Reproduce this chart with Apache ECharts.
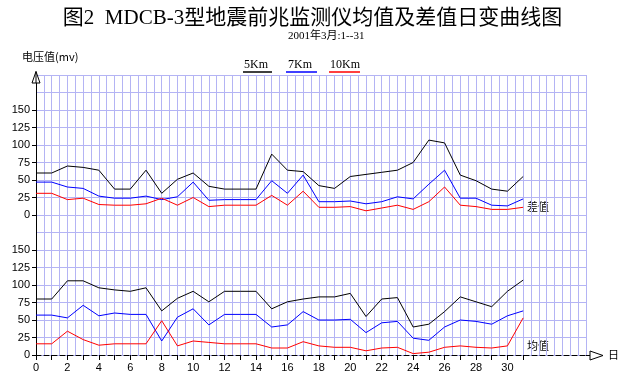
<!DOCTYPE html>
<html>
<head>
<meta charset="utf-8">
<script src="https://cdn.jsdelivr.net/npm/echarts@6/dist/echarts.min.js"></script>
<style>
html,body{margin:0;padding:0;background:#fff;}
#chart{width:625px;height:386px;}
</style>
</head>
<body>
<div id="chart"></div>
<script>
// Day index along the x axis
const days = [0,1,2,3,4,5,6,7,8,9,10,11,12,13,14,15,16,17,18,19,20,21,22,23,24,25,26,27,28,29,30,31];
// Upper panel: 差值 (difference values), mv
const diff5Km  = [60,60,70,68,64,37,37,64,31,51,60,41,37,37,37,87,64,62,42,38,55,58,61,64,75,107,103,57,49,37,34,55];
const diff7Km  = [47,47,40,38,27,24,24,27,22,26,47,21,22,22,22,49,31,57,19,19,20,16,19,26,23,44,64,24,24,14,13,23];
const diff10Km = [31,31,22,24,15,14,14,16,24,14,25,12,14,14,14,28,14,34,11,11,12,6,10,14,8,19,40,14,12,8,8,11];
// Lower panel: 均值 (mean values), mv
const mean5Km  = [80,80,106,106,96,93,91,96,63,81,91,76,91,91,91,66,76,80,83,83,88,55,80,82,40,44,62,83,76,69,91,107];
const mean7Km  = [57,57,53,71,56,60,58,58,20,54,66,43,58,58,58,40,43,62,50,50,51,32,46,48,24,21,40,50,48,44,56,63];
const mean10Km = [16,16,34,22,14,16,16,16,49,13,20,18,16,16,16,10,10,19,13,11,11,6,10,11,2,4,11,13,11,10,13,53];
// Tick labels
const xTickDays  = [0,1,2,3,4,5,6,7,8,9,10,11,12,13,14,15,16,17,18,19,20,21,22,23,24,25,26,27,28,29,30,31];
const xLabelDays = [0,2,4,6,8,10,12,14,16,18,20,22,24,26,28,30];
const legendNames = ['5Km','7Km','10Km'];
const colors = ['#000000','#0000ff','#ff0000'];

const chart = echarts.init(document.getElementById('chart'), null, {renderer:'canvas'});
const L = 36, W = 550;
const gridColor = '#b4b4f4';
const labelFont = {color:'#000', fontSize:11, fontFamily:'Liberation Sans, Arial, sans-serif'};
const pts = arr => days.map((d,i)=>[d, arr[i]]);
function line(name, data, color, idx){
  return {type:'line', name, data:pts(data), xAxisIndex:idx, yAxisIndex:idx, symbol:'none',
    lineStyle:{color, width:1}, itemStyle:{color}, animation:false, silent:true};
}
const cjk = 'Liberation Serif, "Noto Sans CJK SC", serif';
const legendX = [[244,243,272],[288,286,317],[330,329,360]];
const graphics = [];
legendNames.forEach((n,i)=>{
  graphics.push({type:'text', left:legendX[i][0], top:59, style:{text:n, fill:'#000', font:'12px Liberation Serif, serif'}});
  graphics.push({type:'line', shape:{x1:legendX[i][1], y1:72, x2:legendX[i][2], y2:72}, style:{stroke:colors[i], lineWidth:1.5}});
});
graphics.push({type:'text', left:22, top:51, style:{text:'电压值(mv)', fill:'#000', font:'11px "Noto Sans CJK SC", sans-serif'}});
graphics.push({type:'polygon', shape:{points:[[36,71.5],[32,83],[40,83]]}, style:{fill:'#fff', stroke:'#000', lineWidth:1}, z:10});
graphics.push({type:'line', shape:{x1:36, y1:71.5, x2:36, y2:83}, style:{stroke:'#000', lineWidth:1}, z:11});
graphics.push({type:'line', shape:{x1:586, y1:355.5, x2:590, y2:355.5}, style:{stroke:'#000', lineWidth:1, lineDash:[5,3]}, z:10});
graphics.push({type:'polygon', shape:{points:[[590,351],[603,355.5],[590,360]]}, style:{fill:'#fff', stroke:'#000', lineWidth:1}, z:10});
graphics.push({type:'text', left:608, top:349, style:{text:'日', fill:'#000', font:'11px "Noto Sans CJK SC", sans-serif'}});
graphics.push({type:'text', left:527, top:201, style:{text:'差值', fill:'#000', font:'11px "Noto Sans CJK SC", sans-serif'}});
graphics.push({type:'text', left:527, top:340, style:{text:'均值', fill:'#000', font:'11px "Noto Sans CJK SC", sans-serif'}});

const option = {
  backgroundColor:'#fff',
  animation:false,
  title:[
    {text:'图2  MDCB-3型地震前兆监测仪均值及差值日变曲线图', left:'center', top:3,
     textStyle:{fontSize:21, fontWeight:'normal', color:'#000', fontFamily:cjk}},
    {text:'2001年3月:1--31', left:283, top:26,
     textStyle:{fontSize:11, fontWeight:'normal', color:'#000', fontFamily:cjk}}
  ],
  grid:[
    {left:L, top:75, width:W, height:280},
    {left:L, top:110, width:W, height:105},
    {left:L, top:250, width:W, height:105}
  ],
  xAxis:[
    {gridIndex:0, type:'value', min:0, max:35, interval:0.5, axisLine:{show:false}, axisTick:{show:false}, axisLabel:{show:false},
     splitLine:{show:true, lineStyle:{color:gridColor, width:1}}},
    {gridIndex:1, type:'value', min:0, max:35, show:false},
    {gridIndex:2, type:'value', min:0, max:35, interval:1,
     axisLine:{show:true, onZero:false, lineStyle:{color:'#000', width:1, type:[5,3]}},
     axisTick:{show:true, length:5, lineStyle:{color:'#000'}, customValues:xTickDays},
     axisLabel:{show:true, margin:7, customValues:xLabelDays, ...labelFont},
     splitLine:{show:false}}
  ],
  yAxis:[
    {gridIndex:0, type:'value', min:0, max:400, interval:25,
     axisLine:{show:true, onZero:false, lineStyle:{color:'#000', width:1}}, axisTick:{show:false}, axisLabel:{show:false},
     splitLine:{show:true, lineStyle:{color:gridColor, width:1}}},
    {gridIndex:1, type:'value', min:0, max:150, interval:25, axisLine:{show:false},
     axisTick:{show:true, length:4, lineStyle:{color:'#000'}}, axisLabel:{margin:6, ...labelFont}, splitLine:{show:false}},
    {gridIndex:2, type:'value', min:0, max:150, interval:25, axisLine:{show:false},
     axisTick:{show:true, length:4, lineStyle:{color:'#000'}}, axisLabel:{margin:6, ...labelFont}, splitLine:{show:false}}
  ],
  series:[
    line('5Km', diff5Km, colors[0], 1),
    line('7Km', diff7Km, colors[1], 1),
    line('10Km', diff10Km, colors[2], 1),
    line('5Km', mean5Km, colors[0], 2),
    line('7Km', mean7Km, colors[1], 2),
    line('10Km', mean10Km, colors[2], 2)
  ],
  graphic:graphics
};
chart.setOption(option);
</script>
</body>
</html>
